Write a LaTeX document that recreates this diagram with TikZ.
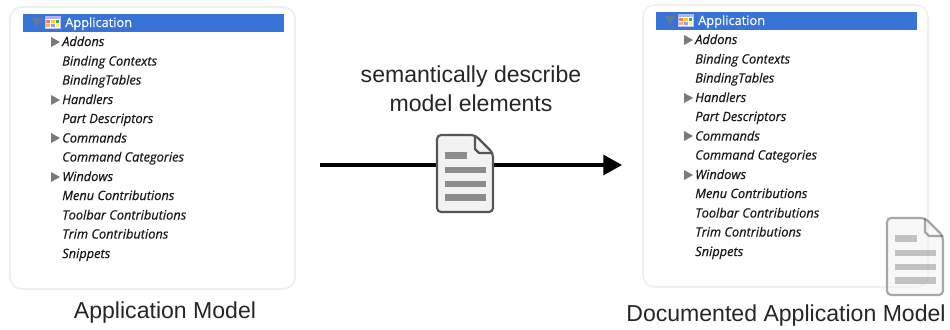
\documentclass[tikz,border=0pt]{standalone}
\usepackage{fontspec}
\usetikzlibrary{arrows.meta}
\newfontfamily\treefont[ItalicFeatures={FakeBold=0.35},UprightFeatures={FakeBold=0.35}]{Open Sans}
\newfontfamily\labelfont{Liberation Sans}
\definecolor{barblue}{HTML}{3874D8}
\definecolor{panelline}{HTML}{EFEFEF}
\definecolor{triangray}{HTML}{7A7A7A}
\definecolor{docline}{HTML}{555555}
\definecolor{docfill}{HTML}{F2F2F2}
\definecolor{docbar}{HTML}{8C8C8C}
\tikzset{
	panel/.style={draw=panelline,line width=1.2pt,fill=white,rounded corners=9pt},
	treebar/.style={fill=barblue,draw=none},
	treeitem/.style={anchor=base west,inner sep=0pt,font=\treefont\itshape\fontsize{9.6}{10}\selectfont,text=black!90},
	rootitem/.style={anchor=base west,inner sep=0pt,font=\treefont\fontsize{9.6}{10}\selectfont,text=white},
	caption/.style={inner sep=0pt,font=\labelfont\fontsize{17.3}{20}\selectfont,text=black!85},
	expander/.style={fill=triangray,draw=none},
	docsheet/.style={fill=docfill,draw=docline,line width=1.6pt,line join=round,rounded corners=3pt},
	docrow/.style={fill=docbar,draw=none}
}
% one tree panel, #1 = name of the panel, #2 = shift
\newcommand{\modeltree}[2]{
	\begin{scope}[shift={#2}]
		\filldraw[panel] (10,7) rectangle (295,289);
		\fill[treebar] (23,14) rectangle (284,32);
		\fill[triangray!70!barblue] (32,18) -- (42,18) -- (37,27) -- cycle;
		\filldraw[fill=white,draw=blue!25!white,line width=0.5pt] (45,16) rectangle (60,28);
		\fill[blue!30!white] (45,16) rectangle (60,19);
		\fill[red!55!white] (46,20) rectangle (49.5,23);
		\fill[yellow!70!orange] (50.5,20) rectangle (54.5,23);
		\fill[green!50!black!70] (55.5,20) rectangle (59,23);
		\fill[orange!60!white] (46,24) rectangle (49.5,27);
		\fill[blue!40!white] (50.5,24) rectangle (54.5,27);
		\fill[yellow!60!white] (55.5,24) rectangle (59,27);
		\node[rootitem] (#1root) at (65,27) {Application};
		\node[treeitem] (#1addons) at (62,46) {Addons};
		\node[treeitem] (#1contexts) at (62,65.5) {Binding Contexts};
		\node[treeitem] (#1tables) at (62,84.5) {BindingTables};
		\node[treeitem] (#1handlers) at (62,104) {Handlers};
		\node[treeitem] (#1parts) at (62,123) {Part Descriptors};
		\node[treeitem] (#1commands) at (62,142.5) {Commands};
		\node[treeitem] (#1categories) at (62,161.5) {Command Categories};
		\node[treeitem] (#1windows) at (62,181) {Windows};
		\node[treeitem] (#1menus) at (62,200) {Menu Contributions};
		\node[treeitem] (#1toolbars) at (62,219.5) {Toolbar Contributions};
		\node[treeitem] (#1trims) at (62,238.5) {Trim Contributions};
		\node[treeitem] (#1snippets) at (62,258) {Snippets};
		\foreach \row in {42,100,138,177}
			\fill[expander] (51,\row-5) -- (60,\row) -- (51,\row+5) -- cycle;
	\end{scope}
}
% the sheet icon, #1 = shift, #2 = opacity
\newcommand{\docicon}[2]{
	\begin{scope}[shift={#1},opacity=#2]
		\filldraw[docsheet] (437,135) -- (475,135) -- (493,153) -- (493,212) -- (437,212) -- cycle;
		\draw[docline,line width=1.6pt,line join=round] (475,135) -- (475,149) -- (479,153) -- (493,153);
		\fill[docrow] (445,152) rectangle (467,159);
		\fill[docrow] (445,167) rectangle (486,173);
		\fill[docrow] (445,181) rectangle (486,187);
		\fill[docrow] (445,194) rectangle (486,201);
	\end{scope}
}
\begin{document}
\begin{tikzpicture}[x=0.75pt,y=-0.75pt]
	\useasboundingbox (0,0) rectangle (950,329);
	\modeltree{left}{(0,0)}
	\modeltree{right}{(633,-2)}
	\node[caption] (leftcaption) at (165,313) {Application Model};
	\node[caption] (rightcaption) at (786,316) {Documented Application Model};
	\node[caption] (descline) at (471,77) {semantically describe};
	\node[caption] (modelline) at (471,103) {model elements};
	\coordinate (arrowstart) at (320,165);
	\coordinate (arrowend) at (622,165);
	\draw[-{Triangle[length=14pt,width=15pt]},line width=2.3pt,black] (arrowstart) -- (arrowend);
	\docicon{(0,0)}{1}
	\docicon{(450,83)}{0.5}
\end{tikzpicture}
\end{document}
